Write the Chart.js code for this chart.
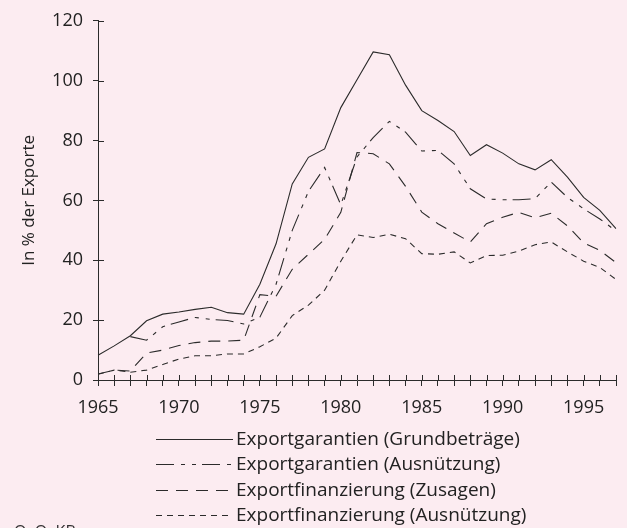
<!DOCTYPE html>
<html><head><meta charset="utf-8">
<script src="https://cdn.jsdelivr.net/npm/chart.js@4.4.0/dist/chart.umd.min.js"></script>
<style>html,body{margin:0;padding:0;background:#fcecf1;} #wrap{width:627px;height:528px;position:relative;}</style>
</head><body><div id="wrap"><canvas id="c" width="627" height="528"></canvas></div>
<script>
const years = [1965,1966,1967,1968,1969,1970,1971,1972,1973,1974,1975,1976,1977,1978,1979,1980,1981,1982,1983,1984,1985,1986,1987,1988,1989,1990,1991,1992,1993,1994,1995,1996,1997];
const xTickLabels = ['1965','1970','1975','1980','1985','1990','1995'];
const yTickValues = [0,20,40,60,80,100,120];
const seriesNames = ['Exportgarantien (Grundbeträge)','Exportgarantien (Ausnützung)','Exportfinanzierung (Zusagen)','Exportfinanzierung (Ausnützung)'];
const garantienGrund = [8.3,11.4,14.8,19.8,22,22.7,23.6,24.3,22.5,22,32,45.5,65.5,74.4,77.2,91,100.3,109.6,108.7,98.5,90,86.7,83,75,78.6,75.8,72.2,70.2,73.6,67.8,61,56.7,50.6];
const garantienAus = [null,null,14.5,13.3,17.8,19.4,20.9,20.2,19.9,18.7,21,32,50,63,71,58.5,74.5,81,86.4,82.8,76.5,76.7,72.2,63.9,60.5,60.2,60.2,60.6,66.1,61,57.2,53.8,49.8];
const finanzZusagen = [2,3.3,3,9,10,11.5,12.5,13,13,13.3,28.5,28,37,42,47,56,76,75.6,72.2,64.7,56.1,52.2,49.1,46.1,52.2,54.4,56,54.2,55.7,51.5,45.8,43.3,39.2];
const finanzAus = [1.9,3.3,2.6,3.3,5.2,7,8.1,8.1,8.7,8.7,11.1,14,21.5,25,30,39.7,48.5,47.6,48.7,47.2,42.2,42,42.8,39.1,41.6,41.7,43.1,45.2,46.1,42.8,39.7,37.6,33.6];
const yTitle = 'In % der Exporte';
const sourceNote = 'Q: O. KB';

const BG = '#fcecf1';
const INK = '#2b2b2b';
Chart.defaults.font.family = "'Open Sans', 'Liberation Sans', sans-serif";
Chart.defaults.font.size = 18;
Chart.defaults.color = '#222';

const mk = (label, data, dash) => ({label, data, borderColor: INK, backgroundColor: INK, borderWidth: 1.1, borderDash: dash, pointRadius: 0, tension: 0, fill: false, spanGaps: false});

const extras = {
  id: 'extras',
  beforeDraw(chart) {
    const ctx = chart.ctx; ctx.save(); ctx.fillStyle = BG; ctx.fillRect(0,0,chart.width,chart.height); ctx.restore();
  },
  afterDraw(chart) {
    const ctx = chart.ctx; const xs = chart.scales.x, ys = chart.scales.y; const ca = chart.chartArea;
    ctx.save();
    ctx.strokeStyle = INK; ctx.lineWidth = 1; ctx.setLineDash([]);
    xs.ticks.forEach((t,i) => { const px = Math.round(xs.getPixelForTick(i)) + 0.5; ctx.beginPath(); ctx.moveTo(px, ca.bottom); ctx.lineTo(px, ca.bottom - 5); ctx.stroke(); });
    ys.ticks.forEach((t,i) => { const py = Math.round(ys.getPixelForTick(i)) + 0.5; ctx.beginPath(); ctx.moveTo(ca.left, py); ctx.lineTo(ca.left + 6, py); ctx.stroke(); });
    chart.data.datasets.forEach((ds, i) => {
      const y = Math.round(439 + i * 25.3) + 0.5;
      ctx.strokeStyle = ds.borderColor; ctx.lineWidth = 1.1; ctx.setLineDash(ds.borderDash || []);
      ctx.beginPath(); ctx.moveTo(156, y); ctx.lineTo(233, y); ctx.stroke();
      ctx.setLineDash([]);
      ctx.fillStyle = '#222'; ctx.font = "19px 'Open Sans'"; ctx.textBaseline = 'middle'; ctx.textAlign = 'left';
      ctx.fillText(ds.label, 236, y);
    });
    ctx.font = "16px 'Open Sans'"; ctx.textBaseline = 'alphabetic'; ctx.fillStyle = '#333';
    ctx.fillText(sourceNote, 14, 537);
    ctx.restore();
  }
};

new Chart(document.getElementById('c'), {
  type: 'line',
  data: {
    labels: years,
    datasets: [
      mk(seriesNames[0], garantienGrund, []),
      mk(seriesNames[1], garantienAus, [18,7,4,7,4,6]),
      mk(seriesNames[2], finanzZusagen, [12,8]),
      mk(seriesNames[3], finanzAus, [6,5])
    ]
  },
  options: {
    responsive: false, animation: false,
    layout: {padding: {top: 20, right: 6, bottom: 108, left: 0}},
    plugins: {legend: {display: false}, tooltip: {enabled: false}},
    scales: {
      x: {
        type: 'category', offset: false,
        grid: {display: true, drawOnChartArea: false, drawTicks: true, tickLength: 6, color: INK},
        border: {display: true, color: INK, width: 1},
        ticks: {autoSkip: false, maxRotation: 0, padding: 11, color: '#222',
          callback: function(v, i) { const l = String(years[i]); return xTickLabels.includes(l) ? l : ''; }},
        afterFit: s => { s.height = 40; }
      },
      y: {
        min: 0, max: 120,
        afterBuildTicks: s => { s.ticks = yTickValues.map(v => ({value: v})); },
        grid: {display: true, drawOnChartArea: false, drawTicks: true, tickLength: 5, color: INK},
        border: {display: true, color: INK, width: 1},
        ticks: {padding: 10, color: '#222'},
        title: {display: true, text: yTitle, font: {size: 17}, color: '#222', padding: {top: 19, bottom: 0}},
        afterFit: s => { s.width = 98; }
      }
    }
  },
  plugins: [extras]
});
</script></body></html>
